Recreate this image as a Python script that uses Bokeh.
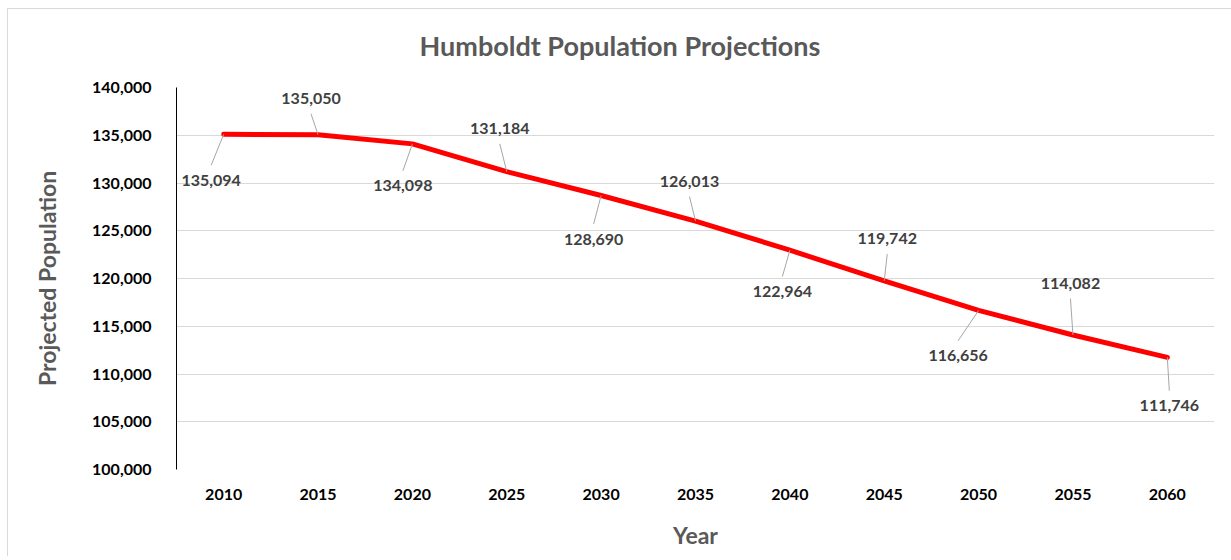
from bokeh.plotting import figure
from bokeh.models import Range1d, FixedTicker, NumeralTickFormatter, ColumnDataSource
from bokeh.core.properties import value
from bokeh.embed import file_html
from bokeh.resources import INLINE

# ---- data ----
years = [2010, 2015, 2020, 2025, 2030, 2035, 2040, 2045, 2050, 2055, 2060]
population = [135094, 135050, 134098, 131184, 128690, 126013, 122964, 119742, 116656, 114082, 111746]
labels = [f"{v:,}" for v in population]
y_ticks = [100000, 105000, 110000, 115000, 120000, 125000, 130000, 135000, 140000]

# ---- label placement styling (pixels from the point) ----
lab_dx = [-12.5, -7, -9.5, -7, -7.5, -6, -7.5, 3, -20.5, -2.5, 2]
lab_dy = [46, -36, 42, -43, 43.5, -39.5, 41.5, -42, 45.5, -51.5, 48.5]

FONT = "Lato"
W, H = 1231, 556
ML, MR, MT, MB = 176, 17, 86, 87
x0, x1 = 2007.5, 2062.5
y0, y1 = 100000, 140000
frame_w = W - ML - MR
frame_h = H - MT - MB
px_per_year = frame_w / (x1 - x0)
units_per_px = (y1 - y0) / frame_h

chart_border = {
    "background-color": "white",
    "background-image": "linear-gradient(#d9d9d9,#d9d9d9), linear-gradient(#d9d9d9,#d9d9d9)",
    "background-size": "1px 560px, 1240px 1px",
    "background-position": "7px 8px, 7px 8px",
    "background-repeat": "no-repeat",
}

p = figure(width=W, height=H, output_backend="svg", toolbar_location=None,
           x_range=Range1d(x0, x1), y_range=Range1d(y0, y1),
           min_border_left=ML, min_border_right=MR, min_border_top=MT, min_border_bottom=MB,
           title="Humboldt Population Projections", styles=chart_border)
p.outline_line_color = None
p.background_fill_color = "white"
p.border_fill_color = None

# title: centred over the whole chart
p.title.text_font = FONT
p.title.text_font_style = "bold"
p.title.text_font_size = "27px"
p.title.text_color = "#595959"
p.title.align = "left"
p.title.offset = 243
p.title.vertical_align = "bottom"
p.title.standoff = 52

# grid
p.xgrid.grid_line_color = None
p.ygrid.grid_line_color = "#d9d9d9"
p.ygrid.grid_line_width = 1

# axes
p.xaxis.ticker = FixedTicker(ticks=years)
p.xaxis.axis_line_color = None
p.xaxis.major_tick_line_color = None
p.xaxis.minor_tick_line_color = None
p.xaxis.major_label_standoff = 13
p.xaxis.major_label_text_font = FONT
p.xaxis.major_label_text_font_style = "bold"
p.xaxis.major_label_text_font_size = "16px"
p.xaxis.major_label_text_color = "#000000"
p.xaxis.axis_label = "Year"
p.xaxis.axis_label_text_font = FONT
p.xaxis.axis_label_text_font_style = "bold"
p.xaxis.axis_label_text_font_size = "23px"
p.xaxis.axis_label_text_color = "#595959"
p.xaxis.axis_label_standoff = 18

p.yaxis.ticker = FixedTicker(ticks=y_ticks)
p.yaxis.formatter = NumeralTickFormatter(format="0,0")
p.yaxis.axis_line_color = "#000000"
p.yaxis.axis_line_width = 1
p.yaxis.major_tick_line_color = None
p.yaxis.minor_tick_line_color = None
p.yaxis.major_label_standoff = 19
p.yaxis.major_label_text_font = FONT
p.yaxis.major_label_text_font_style = "bold"
p.yaxis.major_label_text_font_size = "16px"
p.yaxis.major_label_text_color = "#000000"
p.yaxis.axis_label = "Projected Population"
p.yaxis.axis_label_text_font = FONT
p.yaxis.axis_label_text_font_style = "bold"
p.yaxis.axis_label_text_font_size = "23px"
p.yaxis.axis_label_text_color = "#595959"
p.yaxis.axis_label_standoff = 28

# line
p.line(years, population, line_color="#ff0000", line_width=5, line_join="round", line_cap="round")

# leader lines
lx1 = [yr + dx / px_per_year for yr, dx in zip(years, lab_dx)]
ly1 = [v - (dy - (15 if dy > 0 else -15)) * units_per_px for v, dy in zip(population, lab_dy)]
p.segment(x0=years, y0=population, x1=lx1, y1=ly1, line_color="#a6a6a6", line_width=1)

# data labels
src = ColumnDataSource(dict(x=years, y=population, t=labels, dx=lab_dx, dy=lab_dy))
p.text(x="x", y="y", text="t", x_offset="dx", y_offset="dy", source=src,
       text_font=value(FONT), text_font_style="bold", text_font_size="16px",
       text_color="#404040", text_align="center", text_baseline="middle")

open("out.html", "w").write(file_html(p, INLINE))
